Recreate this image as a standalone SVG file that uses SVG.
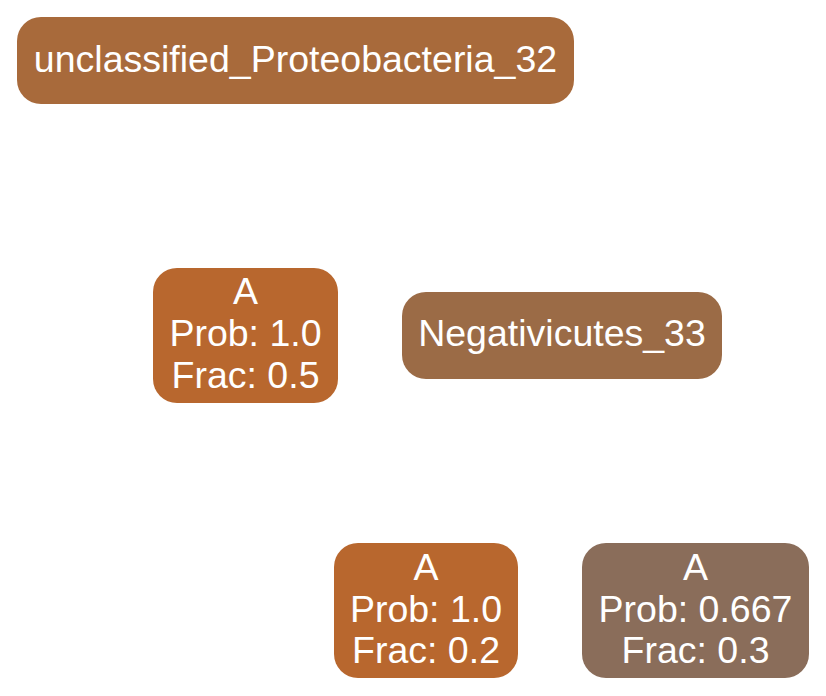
<svg xmlns="http://www.w3.org/2000/svg" width="826" height="696" viewBox="0 0 826 696">
<style>
.t{font-family:"Liberation Sans",Arial,Helvetica,sans-serif;font-size:37.5px;fill:#ffffff;text-anchor:middle}
</style>
<rect width="826" height="696" fill="#ffffff"/>
<g id="connectors"></g>
<g id="n1">
<rect x="17" y="17" width="557" height="87" rx="24" fill="#A86A3B"/>
<text class="t" x="295.5" y="72">unclassified_Proteobacteria_32</text>
</g>
<g id="n2">
<rect x="153" y="268" width="185" height="135" rx="24" fill="#B8672E"/>
<text class="t" x="245.5" y="304">A</text>
<text class="t" x="245.5" y="346">Prob: 1.0</text>
<text class="t" x="245.5" y="388">Frac: 0.5</text>
</g>
<g id="n3">
<rect x="402" y="292" width="320" height="87" rx="24" fill="#9B6B46"/>
<text class="t" x="562" y="346">Negativicutes_33</text>
</g>
<g id="n4">
<rect x="334" y="543" width="184" height="135" rx="24" fill="#B8672E"/>
<text class="t" x="426" y="580">A</text>
<text class="t" x="426" y="622">Prob: 1.0</text>
<text class="t" x="426" y="663">Frac: 0.2</text>
</g>
<g id="n5">
<rect x="582" y="543" width="227" height="135" rx="24" fill="#8A6D5A"/>
<text class="t" x="695.5" y="580">A</text>
<text class="t" x="695.5" y="622">Prob: 0.667</text>
<text class="t" x="695.5" y="663">Frac: 0.3</text>
</g>
</svg>
